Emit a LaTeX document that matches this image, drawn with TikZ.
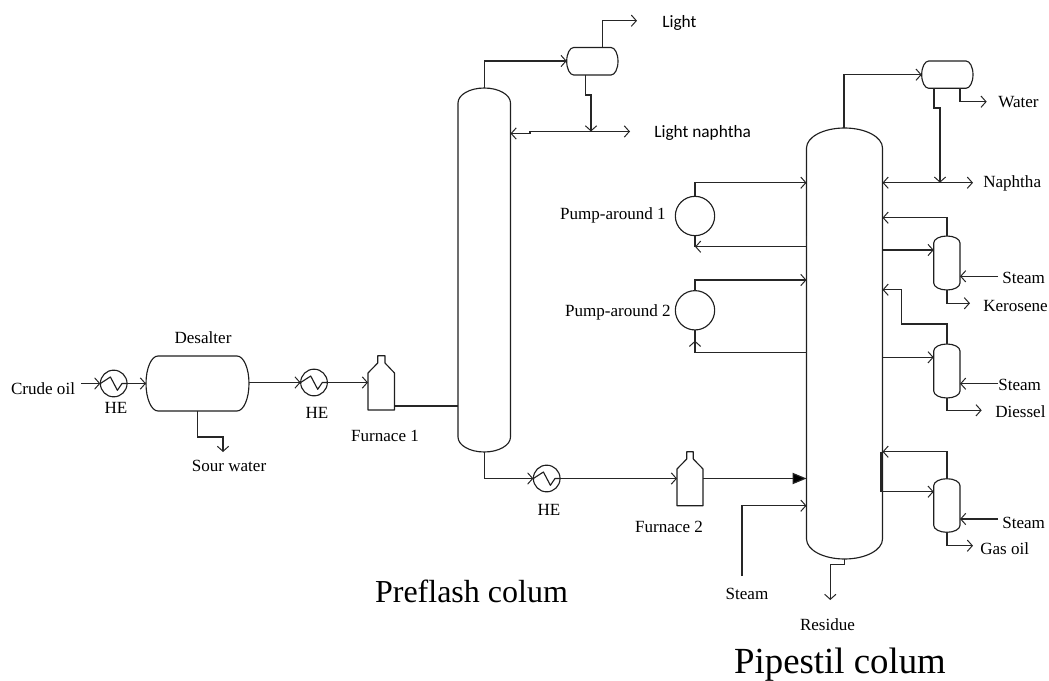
\documentclass[tikz,border=0pt]{standalone}
\usepackage{fontspec}
\setmainfont{Liberation Serif}
\newfontfamily\calfont{Carlito}
\usetikzlibrary{arrows.meta,fit,calc}
\tikzset{
  eq/.style={draw=black!88,line width=0.85pt,line join=round},
  flow/.style={draw=black!85,line width=0.85pt,line join=miter,-{Straight Barb[length=3.8pt,width=8.5pt,line width=0.75pt]}},
  pipe/.style={draw=black!85,line width=0.85pt,line join=miter},
  solidflow/.style={draw=black!85,line width=0.85pt,-{Triangle[length=10.5pt,width=8.5pt,fill=black]}},
  box/.style={inner sep=0pt,outer sep=0pt},
  hxc/.style={circle,eq,minimum size=20pt,inner sep=0pt,outer sep=0pt},
  pumpc/.style={circle,eq,minimum size=29.5pt,inner sep=0pt,outer sep=0pt},
  lbl/.style={inner sep=0pt,yshift=-0.75pt,font=\fontsize{12.8}{14}\selectfont},
  clbl/.style={inner sep=0pt,yshift=-0.9pt,font=\calfont\fontsize{13}{14}\selectfont},
  big/.style={inner sep=0pt,font=\fontsize{24}{28}\selectfont},
  bigger/.style={inner sep=0pt,font=\fontsize{27.6}{30}\selectfont},
}
% name x1 y1 x2 y2 hx hy
\newcommand{\vessel}[7]{%
  \node[box,fit={(#2,#3)(#4,#5)}] (#1) {};
  \draw[eq] (#2+#6,#3) -- (#4-#6,#3)
    .. controls (#4-#6+.5523*#6,#3) and (#4,#3+#7-.5523*#7) .. (#4,#3+#7)
    -- (#4,#5-#7)
    .. controls (#4,#5-#7+.5523*#7) and (#4-#6+.5523*#6,#5) .. (#4-#6,#5)
    -- (#2+#6,#5)
    .. controls (#2+#6-.5523*#6,#5) and (#2,#5-#7+.5523*#7) .. (#2,#5-#7)
    -- (#2,#3+#7)
    .. controls (#2,#3+#7-.5523*#7) and (#2+#6-.5523*#6,#3) .. (#2+#6,#3) -- cycle;
}
% name x1 x2 shoulder bottom neckx1 neckx2 neckbase necktop
\newcommand{\furnace}[9]{%
  \node[box,fit={(#2,#9)(#3,#5)}] (#1) {};
  \draw[eq] (#2,#5) -- (#3,#5) -- (#3,#4) -- (#7,#8) -- (#7,#9) -- (#6,#9) -- (#6,#8) -- (#2,#4) -- cycle;
}
% name x y
\newcommand{\hexch}[3]{%
  \node[hxc] (#1) at (#2,#3) {};
  \draw[eq] (#1.west) -- ($(#1.center)+(-3.3,-6.5)$) -- ($(#1.center)+(3.7,6.8)$) -- ($(#1.center)+(8.3,0)$) -- (#1.east);
}
\begin{document}
\begin{tikzpicture}[x=0.75pt,y=-0.75pt]
\useasboundingbox (0,0) rectangle (1049,681);
% columns and vessels
\vessel{col1}{458}{88}{510.5}{452}{26.25}{15}
\vessel{col2}{806.5}{128}{882.5}{559}{38}{20}
\vessel{desalter}{146}{356}{249}{411}{12}{27.5}
\vessel{drum1}{566.7}{47.5}{618}{75}{7}{13.75}
\vessel{drum2}{921.7}{61}{973}{88.3}{7}{13.65}
\vessel{st1}{933.7}{236}{960}{290}{13.15}{7}
\vessel{st2}{933.7}{344}{960}{398}{13.15}{7}
\vessel{st3}{933.7}{478.7}{960}{532.3}{13.15}{7}
\hexch{he1}{113.7}{383.5}
\hexch{he2}{314}{382.5}
\hexch{he3}{546.7}{478.5}
\furnace{fu1}{368}{394.5}{373}{410}{377.7}{385}{363}{355.7}
\furnace{fu2}{677}{703}{469}{505.7}{686.7}{693.3}{459}{451.7}
\node[pumpc] (pa1) at (695,216) {};
\node[pumpc] (pa2) at (695,310.3) {};
% labels
\node[lbl] (tcrude) at (43,388) {Crude oil};
\node[lbl] (the1) at (116,407) {HE};
\node[lbl] (tdes) at (203,337) {Desalter};
\node[lbl] (tsour) at (229,464.5) {Sour water};
\node[lbl] (the2) at (317,412) {HE};
\node[lbl] (tfu1) at (385,435) {Furnace 1};
\node[lbl] (the3) at (549,509) {HE};
\node[lbl] (tfu2) at (669,526) {Furnace 2};
\node[lbl] (tsteam4) at (747,593) {Steam};
\node[lbl] (tres) at (827.5,624) {Residue};
\node[lbl,anchor=east] (tpa1) at (666,214) {Pump-around 1};
\node[lbl,anchor=east] (tpa2) at (671,311) {Pump-around 2};
\node[lbl,anchor=west] (twater) at (998,101) {Water};
\node[lbl,anchor=west] (tnaph) at (983,182) {Naphtha};
\node[lbl,anchor=west] (tsteam1) at (1002,277) {Steam};
\node[lbl,anchor=west] (tker) at (983,305) {Kerosene};
\node[lbl,anchor=west] (tsteam2) at (998,384) {Steam};
\node[lbl,anchor=west] (tdies) at (995,411) {Diessel};
\node[lbl,anchor=west] (tsteam3) at (1002,522) {Steam};
\node[lbl,anchor=west] (tgas) at (980,548) {Gas oil};
\node[clbl,anchor=west] (tlight) at (662,22) {Light};
\node[clbl,anchor=west] (tlnaph) at (654,131.5) {Light naphtha};
\node[big] (tpre) at (471.5,591) {Preflash colum};
\node[bigger] (tpipe) at (840,665) {Pipestil colum};
% free ends and ports
\coordinate (crudeS) at (81,383.5);
\coordinate (desIn) at (desalter.west |- he1);
\coordinate (desOut) at (desalter.east |- he2);
\coordinate (fu1In) at (fu1.west |- he2);
\coordinate (fu1Out) at (394.5,406);
\coordinate (col1In) at (col1.west |- fu1Out);
\draw[flow] (crudeS) -- (he1.west);
\draw[flow] (he1.east) -- (desIn);
\draw[flow] (desOut) -- (he2.west);
\draw[flow] (he2.east) -- (fu1In);
\draw[pipe] (fu1Out) -- (col1In);
% sour water
\coordinate (sw0) at (197.5,411);
\coordinate (sw1) at (223,437);
\coordinate (sw2) at (223,452);
\draw[flow] (sw0) |- (sw1) -- (sw2);
% preflash overhead
\coordinate (c1top) at (484.5,88);
\coordinate (d1in) at (drum1.west |- 0,61);
\draw[flow] (c1top) |- (d1in);
\coordinate (d1top) at (602.7,47.5);
\coordinate (lightE) at (637,20.7);
\draw[flow] (d1top) |- (lightE);
\coordinate (d1b) at (585.7,75);
\coordinate (d1j1) at (585.7,95);
\coordinate (d1j2) at (591,95);
\coordinate (d1j3) at (591,131.5);
\draw[flow] (d1b) -- (d1j1) -- (d1j2) -- (d1j3);
\coordinate (lnE) at (630,131.5);
\coordinate (lnB) at (530,131.5);
\coordinate (lnB2) at (530,133.5);
\coordinate (c1rf) at (col1.east |- lnB2);
\draw[flow] (d1j3) -- (lnE);
\draw[pipe] (d1j3) -- (lnB);
\draw[flow] (lnB) -- (lnB2) -- (c1rf);
% preflash bottoms
\coordinate (c1bot) at (484.7,452);
\draw[flow] (c1bot) |- (he3.west);
\coordinate (fu2In) at (fu2.west |- he3);
\draw[flow] (he3.east) -- (fu2In);
\coordinate (fu2Out) at (fu2.east |- he3);
\coordinate (c2feed) at (col2.west |- he3);
\draw[solidflow] (fu2Out) -- (c2feed);
% steam to col2
\coordinate (stmS) at (742,576);
\coordinate (c2stm) at (col2.west |- 0,505.7);
\draw[flow] (stmS) |- (c2stm);
% residue
\coordinate (c2bot) at (844.3,559);
\coordinate (r1) at (844.3,564.7);
\coordinate (r2) at (830.3,564.7);
\coordinate (r3) at (830.3,600);
\draw[flow] (c2bot) -- (r1) -- (r2) -- (r3);
% pipestill overhead
\coordinate (c2top) at (844,128);
\coordinate (d2in) at (drum2.west |- 0,74.7);
\draw[flow] (c2top) |- (d2in);
\coordinate (d2w) at (960,88.3);
\coordinate (wE) at (986.7,101.7);
\draw[flow] (d2w) |- (wE);
\coordinate (d2b) at (934,88.3);
\coordinate (d2j1) at (934,108);
\coordinate (d2j2) at (940,108);
\coordinate (d2j3) at (940,182.7);
\draw[flow] (d2b) -- (d2j1) -- (d2j2) -- (d2j3);
\coordinate (nE) at (973,182.7);
\coordinate (c2rf) at (col2.east |- d2j3);
\draw[flow] (d2j3) -- (nE);
\draw[flow] (d2j3) -- (c2rf);
% pump-arounds
\coordinate (p1in) at (col2.west |- d2j3);
\draw[flow] (pa1.north) |- (p1in);
\coordinate (p1r0) at (col2.west |- 0,236);
\coordinate (p1ret) at (col2.west |- 0,246.7);
\coordinate (p1end) at (pa1.south |- p1ret);
\draw[pipe] (p1r0) -- (p1ret);
\draw[flow] (p1ret) -- (p1end);
\draw[pipe] (pa1.south) -- (p1end);
\coordinate (p2in) at (col2.west |- 0,280);
\draw[flow] (pa2.north) |- (p2in);
\coordinate (p2ret) at (col2.west |- 0,352.7);
\coordinate (p2cor) at (pa2.south |- p2ret);
\coordinate (p2tip) at (695,340.7);
\draw[pipe] (p2cor) -- (pa2.south);
\draw[flow] (p2ret) -- (p2cor) -- (p2tip);
% stripper 1
\coordinate (s1t) at (947,236);
\coordinate (s1r) at (col2.east |- 0,217.7);
\draw[flow] (s1t) |- (s1r);
\coordinate (s1o) at (col2.east |- 0,250);
\coordinate (s1i) at (st1.west |- s1o);
\draw[flow] (s1o) -- (s1i);
\coordinate (s1sS) at (998,276.3);
\coordinate (s1sE) at (st1.east |- s1sS);
\draw[flow] (s1sS) -- (s1sE);
\coordinate (s1b) at (947,290);
\coordinate (s1e) at (970,303.3);
\draw[flow] (s1b) |- (s1e);
% stripper 2
\coordinate (s2t) at (947,344);
\coordinate (s2a) at (947,324);
\coordinate (s2c) at (901.7,324);
\coordinate (s2d) at (901.7,289.7);
\coordinate (s2r) at (col2.east |- s2d);
\draw[flow] (s2t) -- (s2a) -- (s2c) -- (s2d) -- (s2r);
\coordinate (s2o) at (col2.east |- 0,357.3);
\coordinate (s2i) at (st2.west |- s2o);
\draw[flow] (s2o) -- (s2i);
\coordinate (s2sS) at (998,383.7);
\coordinate (s2sE) at (st2.east |- s2sS);
\draw[flow] (s2sS) -- (s2sE);
\coordinate (s2b) at (947,398);
\coordinate (s2e) at (981.7,410.3);
\draw[flow] (s2b) |- (s2e);
% stripper 3
\coordinate (s3t) at (947,478.7);
\coordinate (s3r) at (col2.east |- 0,451.7);
\draw[flow] (s3t) |- (s3r);
\coordinate (s3v) at (881,451.7);
\coordinate (s3o) at (881,491.7);
\coordinate (s3i) at (st3.west |- s3o);
\draw[pipe] (s3v) -- (s3o);
\draw[flow] (s3o) -- (s3i);
\coordinate (s3sS) at (998,519);
\coordinate (s3sE) at (st3.east |- s3sS);
\draw[flow] (s3sS) -- (s3sE);
\coordinate (s3b) at (947,532.3);
\coordinate (s3e) at (973,545.7);
\draw[flow] (s3b) |- (s3e);
\end{tikzpicture}
\end{document}
